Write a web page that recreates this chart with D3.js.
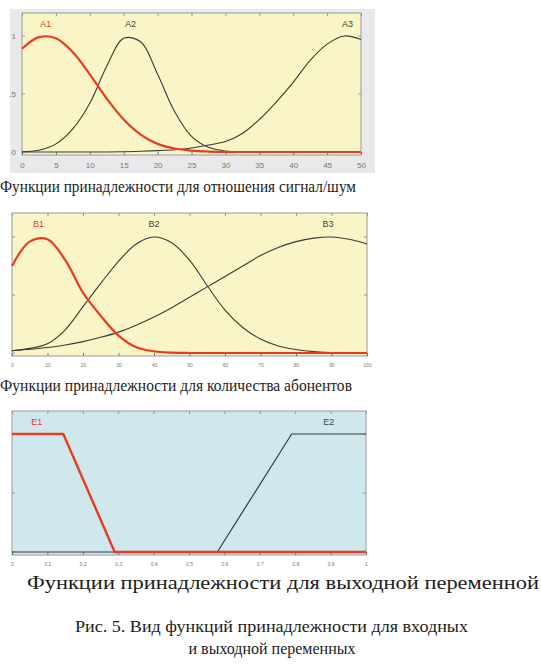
<!DOCTYPE html>
<html>
<head>
<meta charset="utf-8">
<script src="https://cdn.jsdelivr.net/npm/d3@7"></script>
<style>
  body { margin: 0; background: #fff; }
  svg { display: block; }
  .cap { font-family: "Liberation Serif", "DejaVu Serif", serif; fill: #1c1c1c; }
  .tick text { font-family: "Liberation Sans", sans-serif; }
</style>
</head>
<body>
<svg id="fig" width="541" height="666"></svg>
<script>
// membership functions
const snrX = [0, 2.5, 5, 7.5, 10, 12.5, 15, 17.5, 20, 22.5, 25, 27.5, 30, 32.5, 35, 37.5, 40, 42.5, 45, 47.5, 50];
const snrA1 = [0.89, 0.99, 0.98, 0.86, 0.67, 0.46, 0.28, 0.15, 0.07, 0.03, 0.012, 0.004, 0, 0, 0, 0, 0, 0, 0, 0, 0];
const snrA2 = [0.002, 0.015, 0.07, 0.2, 0.42, 0.74, 0.98, 0.95, 0.67, 0.35, 0.135, 0.04, 0.008, 0.001, 0, 0, 0, 0, 0, 0, 0];
const snrA3 = [0, 0, 0, 0, 0, 0, 0.002, 0.006, 0.012, 0.02, 0.035, 0.06, 0.09, 0.16, 0.28, 0.43, 0.6, 0.79, 0.93, 1.0, 0.97];
const snrTicks = [0, 5, 10, 15, 20, 25, 30, 35, 40, 45, 50];

const subX = [0, 5, 10, 15, 20, 25, 30, 35, 40, 45, 50, 55, 60, 65, 70, 75, 80, 85, 90, 95, 100];
const subB1 = [0.75, 0.96, 0.98, 0.8, 0.52, 0.32, 0.15, 0.05, 0.015, 0.003, 0, 0, 0, 0, 0, 0, 0, 0, 0, 0, 0];
const subB2 = [0.02, 0.04, 0.08, 0.2, 0.4, 0.6, 0.79, 0.94, 1.0, 0.95, 0.8, 0.58, 0.37, 0.22, 0.12, 0.06, 0.03, 0.012, 0.004, 0, 0];
const subB3 = [0.02, 0.032, 0.047, 0.069, 0.098, 0.135, 0.18, 0.24, 0.31, 0.39, 0.48, 0.57, 0.66, 0.75, 0.84, 0.91, 0.96, 0.99, 1.0, 0.98, 0.94];
const subTicks = [0, 10, 20, 30, 40, 50, 60, 70, 80, 90, 100];

const outE1x = [0, 0.145, 0.29, 1];
const outE1y = [1, 1, 0, 0];
const outE2x = [0, 0.58, 0.79, 1];
const outE2y = [0, 0, 1, 1];
const outTicks = [0, 0.1, 0.2, 0.3, 0.4, 0.5, 0.6, 0.7, 0.8, 0.9, 1];

const captions = [
  'Функции принадлежности для отношения сигнал/шум',
  'Функции принадлежности для количества абонентов',
  'Функции принадлежности для выходной переменной'
];
const figTitle = ['Рис. 5. Вид функций принадлежности для входных', 'и выходной переменных'];

const svg = d3.select('#fig');
const red = '#ec3a22';
const dark = '#3a3a3a';

const drawPanel = (p) => {
  const x = d3.scaleLinear().domain(p.domain).range([p.left, p.right]);
  const y = d3.scaleLinear().domain([0, 1]).range([p.y0, p.y1]);
  const g = svg.append('g');

  if (p.outer) {
    g.append('rect')
      .attr('x', p.outer[0]).attr('y', p.outer[1])
      .attr('width', p.outer[2]).attr('height', p.outer[3])
      .attr('fill', '#e9e9ec');
  }
  g.append('rect')
    .attr('x', p.left).attr('y', p.top)
    .attr('width', p.right - p.left).attr('height', p.bottom - p.top)
    .attr('fill', p.bg).attr('stroke', '#9a9a9a').attr('stroke-width', 1);

  // ticks at bottom and top
  const xAxis = d3.axisBottom(x).tickValues(p.ticks).tickSize(3).tickPadding(4)
    .tickFormat(p.fmt);
  const ax = g.append('g').attr('transform', `translate(0,${p.bottom})`).call(xAxis);
  ax.select('.domain').remove();
  ax.selectAll('.tick line').attr('stroke', '#777').attr('y1', -3).attr('y2', 0);
  ax.selectAll('.tick text').attr('fill', '#777').style('font-size', p.tickSize + 'px');

  const topAx = g.append('g').attr('transform', `translate(0,${p.top})`)
    .call(d3.axisTop(x).tickValues(p.ticks).tickSize(0).tickFormat(''));
  topAx.select('.domain').remove();
  topAx.selectAll('.tick line').attr('stroke', '#999').attr('y1', 0).attr('y2', 3);

  // y ticks on both sides
  [0, 0.5, 1].forEach(v => {
    g.append('line').attr('x1', p.left).attr('x2', p.left + 3)
      .attr('y1', y(v)).attr('y2', y(v)).attr('stroke', '#999');
    g.append('line').attr('x1', p.right - 3).attr('x2', p.right)
      .attr('y1', y(v)).attr('y2', y(v)).attr('stroke', '#999');
  });
  if (p.yLabels) {
    g.selectAll('.ylab').data(p.yLabels).enter().append('text')
      .attr('x', p.left - 6).attr('y', d => y(d[0]) + 3)
      .attr('text-anchor', 'end')
      .style('font-family', 'Liberation Sans, sans-serif')
      .style('font-size', '8px').attr('fill', '#777')
      .text(d => d[1]);
  }

  const line = d3.line()
    .x(d => x(d[0])).y(d => Math.min(y(d[1]), p.y0))
    .curve(p.smooth ? d3.curveCatmullRom.alpha(0.5) : d3.curveLinear);

  p.series.forEach(s => {
    g.append('path')
      .datum(s.xs.map((v, i) => [v, s.ys[i]]))
      .attr('d', line)
      .attr('fill', 'none')
      .attr('stroke', s.color)
      .attr('stroke-width', s.width)
      .attr('stroke-linejoin', 'round');
    g.append('text')
      .attr('x', x(s.lx)).attr('y', p.top + 14)
      .attr('text-anchor', 'middle')
      .style('font-family', 'Liberation Sans, sans-serif')
      .style('font-size', '9px')
      .attr('fill', s.color === red ? red : '#444')
      .text(s.name);
  });
};

drawPanel({
  domain: [0, 50], left: 22, right: 361, top: 13, bottom: 155, y0: 152, y1: 36,
  outer: [10, 9, 365, 164], bg: '#faf5c6', ticks: snrTicks, fmt: d3.format('d'),
  tickSize: 8, smooth: true, yLabels: [[0, '0'], [0.5, '.5'], [1, '1']],
  series: [
    { name: 'A3', xs: snrX, ys: snrA3, color: dark, width: 1.1, lx: 48 },
    { name: 'A2', xs: snrX, ys: snrA2, color: dark, width: 1.1, lx: 16 },
    { name: 'A1', xs: snrX, ys: snrA1, color: red, width: 2.2, lx: 3.5 }
  ]
});

drawPanel({
  domain: [0, 100], left: 12, right: 367, top: 213, bottom: 356, y0: 353, y1: 237,
  bg: '#faf5c6', ticks: subTicks, fmt: d3.format('d'), tickSize: 5, smooth: true,
  series: [
    { name: 'B3', xs: subX, ys: subB3, color: dark, width: 1.1, lx: 89 },
    { name: 'B2', xs: subX, ys: subB2, color: dark, width: 1.1, lx: 40 },
    { name: 'B1', xs: subX, ys: subB1, color: red, width: 2.2, lx: 7.5 }
  ]
});

drawPanel({
  domain: [0, 1], left: 12, right: 366, top: 411, bottom: 555, y0: 552, y1: 434,
  bg: '#cfe8ee', ticks: outTicks, fmt: d => d === 0 || d === 1 ? d3.format('d')(d) : d3.format('.1f')(d),
  tickSize: 5, smooth: false,
  series: [
    { name: 'E2', xs: outE2x, ys: outE2y, color: dark, width: 1.2, lx: 0.895 },
    { name: 'E1', xs: outE1x, ys: outE1y, color: red, width: 2.4, lx: 0.07 }
  ]
});

// captions
const capPos = [[0, 192, 356, 16.5], [0, 391, 352, 16.5], [27, 589, 512, 18]];
captions.forEach((c, i) => {
  svg.append('text').attr('class', 'cap')
    .attr('x', capPos[i][0]).attr('y', capPos[i][1])
    .attr('textLength', capPos[i][2]).attr('lengthAdjust', 'spacingAndGlyphs')
    .style('font-size', capPos[i][3] + 'px')
    .text(c);
});

svg.append('text').attr('class', 'cap')
  .attr('x', 75).attr('y', 632).attr('textLength', 393)
  .attr('lengthAdjust', 'spacingAndGlyphs')
  .style('font-size', '16px').attr('fill', '#333')
  .text(figTitle[0]);
svg.append('text').attr('class', 'cap')
  .attr('x', 272).attr('y', 654).attr('text-anchor', 'middle')
  .style('font-size', '16px').attr('fill', '#333')
  .text(figTitle[1]);
</script>
</body>
</html>
